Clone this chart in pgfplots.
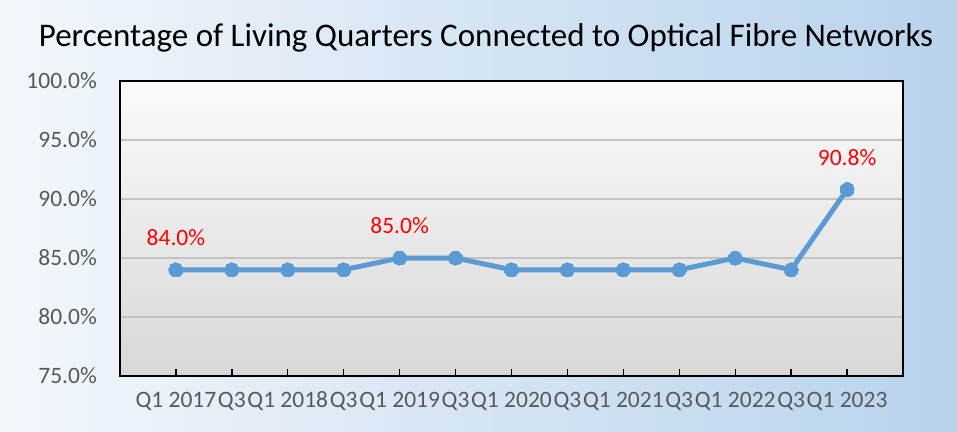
\documentclass[border=0pt]{standalone}
\usepackage{fontspec}
\setmainfont{Carlito}
\usepackage{pgfplots}
\pgfplotsset{compat=1.18}
\definecolor{tickgray}{HTML}{595959}
\definecolor{linecol}{HTML}{5B9BD5}
\definecolor{gridc}{HTML}{C3C3C3}
\definecolor{bgl}{HTML}{F3F7FC}
\definecolor{bgr}{HTML}{B8D3EC}
\definecolor{pbot}{HTML}{D8D8D8}
\definecolor{ptop}{HTML}{FBFBFB}
\begin{document}
\begin{tikzpicture}[x=1pt,y=1pt]
\shade[left color=bgl, right color=bgr] (0,0) rectangle (957,431);
\node[font=\fontsize{33}{38}\selectfont, anchor=center, inner sep=0pt] at (486,393) {Percentage of Living Quarters Connected to Optical Fibre Networks};
\begin{axis}[
  at={(120pt,55pt)}, anchor=south west,
  scale only axis, width=783pt, height=295pt,
  xmin=-1, xmax=13, ymin=75, ymax=100,
  axis background/.style={shade, top color=ptop, bottom color=pbot},
  axis line style={line width=1.6pt, black},
  ytick={75,80,85,90,95,100},
  yticklabels={75.0\%,80.0\%,85.0\%,90.0\%,95.0\%,100.0\%},
  xtick={0,1,2,3,4,5,6,7,8,9,10,11,12},
  xticklabels={Q1 2017,Q3,Q1 2018,Q3,Q1 2019,Q3,Q1 2020,Q3,Q1 2021,Q3,Q1 2022,Q3,Q1 2023},
  xtick pos=bottom, ytick pos=left,
  tick align=inside,
  major tick length=7pt,
  xtick style={line width=1.4pt, black},
  ytick style={draw=none},
  ymajorgrids, grid style={gridc, line width=1.5pt},
  tick label style={font=\fontsize{23.5}{26}\selectfont, text=tickgray, inner sep=0pt},
  yticklabel style={anchor=east, xshift=-23pt},
  xticklabel style={anchor=base, yshift=-31pt},
  clip=false,
]
\addplot[linecol, line width=5pt, mark=*, mark size=7pt, mark options={fill=linecol, draw=linecol, line width=0pt}] coordinates {
(0,84.0) (1,84.0) (2,84.0) (3,84.0) (4,85.0) (5,85.0) (6,84.0) (7,84.0) (8,84.0) (9,84.0) (10,85.0) (11,84.0) (12,90.8)
};
\addplot[draw=none, mark=none, nodes near coords, point meta=explicit symbolic,
  nodes near coords style={anchor=center, yshift=32pt, text=red, font=\fontsize{23.5}{26}\selectfont, inner sep=0pt}]
  table[meta=label] {
x y label
0 84.0 84.0\%
4 85.0 85.0\%
12 90.8 90.8\%
};
\end{axis}
\end{tikzpicture}
\end{document}
